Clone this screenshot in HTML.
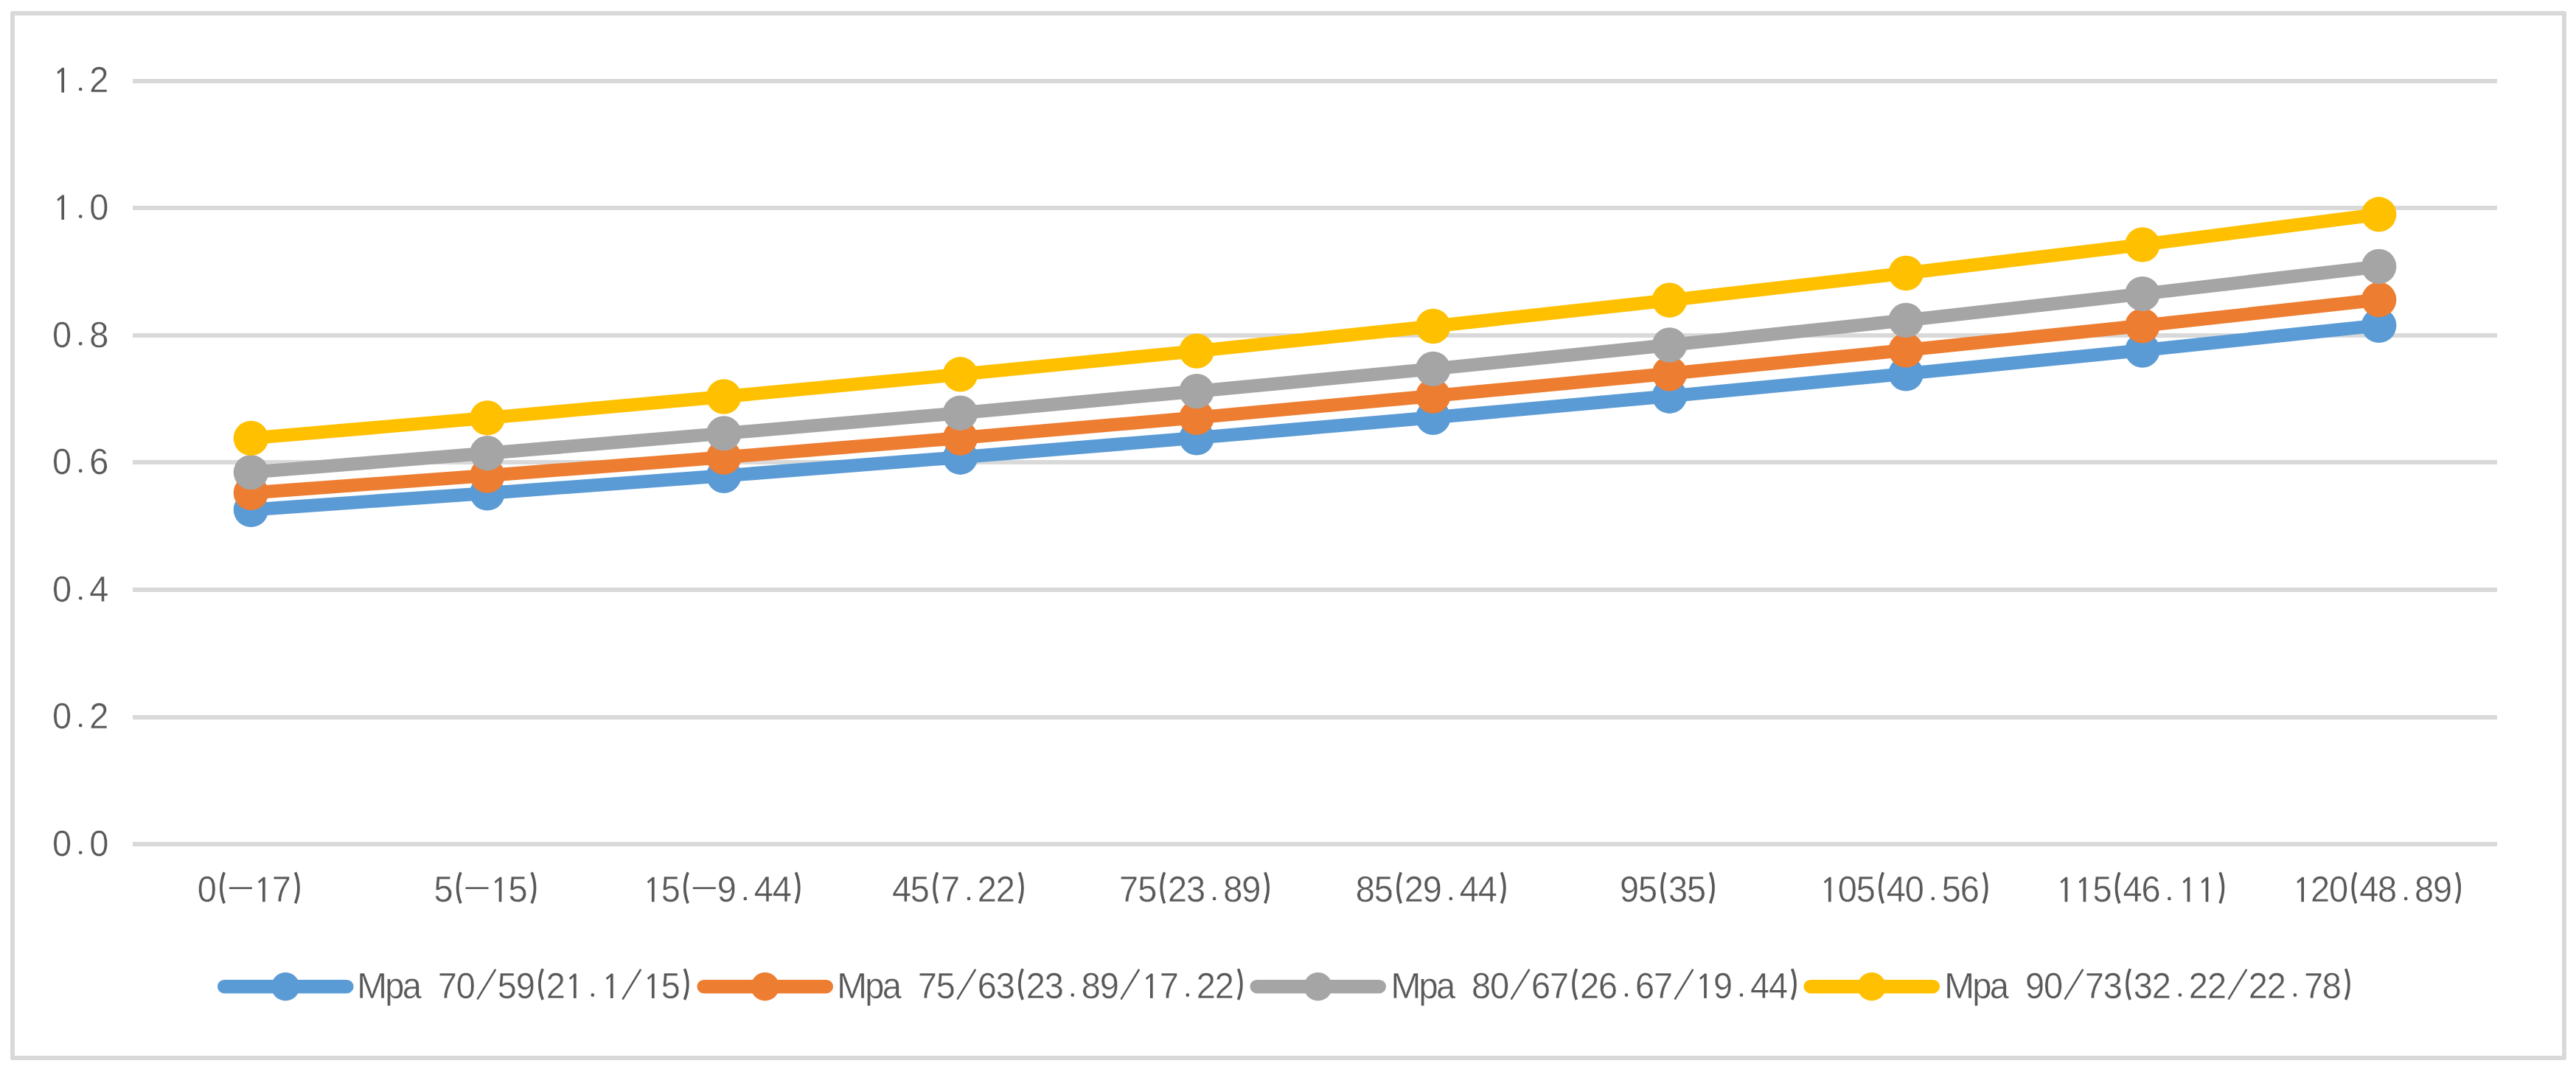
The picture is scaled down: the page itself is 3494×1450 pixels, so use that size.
<!DOCTYPE html>
<html lang="en">
<head>
<meta charset="utf-8">
<title>Chart</title>
<style>
html,body{margin:0;padding:0;background:#fff;}
body{width:3494px;height:1450px;overflow:hidden;font-family:"Liberation Sans",sans-serif;}
svg{display:block;}
.t{font-family:"Liberation Sans",sans-serif;font-size:49.4px;fill:#595959;text-anchor:middle;}
.t text{stroke:#fff;stroke-width:0.4;text-rendering:geometricPrecision;}
.t{opacity:0.999;}
.t .g{fill:none;stroke:#595959;stroke-width:3.7;stroke-linecap:butt;stroke-linejoin:miter;}
.t .n{stroke-width:2.6;}
</style>
</head>
<body>
<svg width="3494" height="1450" viewBox="0 0 3494 1450">
<rect x="17" y="18" width="3461" height="1417" fill="#fff" stroke="#D9D9D9" stroke-width="6" stroke-linejoin="round"/>
<rect x="180" y="107.0" width="3207" height="6" fill="#D9D9D9"/>
<rect x="180" y="279.0" width="3207" height="6" fill="#D9D9D9"/>
<rect x="180" y="452.0" width="3207" height="6" fill="#D9D9D9"/>
<rect x="180" y="624.0" width="3207" height="6" fill="#D9D9D9"/>
<rect x="180" y="797.0" width="3207" height="6" fill="#D9D9D9"/>
<rect x="180" y="970.0" width="3207" height="6" fill="#D9D9D9"/>
<rect x="180" y="1142.0" width="3207" height="6" fill="#D9D9D9"/>
<polyline points="340.4,691.4 661.0,668.9 981.8,645.3 1302.5,620.2 1623.1,593.9 1943.8,566.3 2264.5,537.2 2585.2,506.9 2905.9,475.1 3226.7,441.4" fill="none" stroke="#5B9BD5" stroke-width="18" stroke-linejoin="round" stroke-linecap="round"/>
<circle cx="340.4" cy="691.4" r="23.7" fill="#5B9BD5"/>
<circle cx="661.0" cy="668.9" r="23.7" fill="#5B9BD5"/>
<circle cx="981.8" cy="645.3" r="23.7" fill="#5B9BD5"/>
<circle cx="1302.5" cy="620.2" r="23.7" fill="#5B9BD5"/>
<circle cx="1623.1" cy="593.9" r="23.7" fill="#5B9BD5"/>
<circle cx="1943.8" cy="566.3" r="23.7" fill="#5B9BD5"/>
<circle cx="2264.5" cy="537.2" r="23.7" fill="#5B9BD5"/>
<circle cx="2585.2" cy="506.9" r="23.7" fill="#5B9BD5"/>
<circle cx="2905.9" cy="475.1" r="23.7" fill="#5B9BD5"/>
<circle cx="3226.7" cy="441.4" r="23.7" fill="#5B9BD5"/>
<polyline points="340.4,668.4 661.0,645.0 981.8,620.2 1302.5,594.0 1623.1,566.4 1943.8,537.0 2264.5,506.8 2585.2,474.9 2905.9,441.8 3226.7,406.5" fill="none" stroke="#ED7D31" stroke-width="18" stroke-linejoin="round" stroke-linecap="round"/>
<circle cx="340.4" cy="668.4" r="23.7" fill="#ED7D31"/>
<circle cx="661.0" cy="645.0" r="23.7" fill="#ED7D31"/>
<circle cx="981.8" cy="620.2" r="23.7" fill="#ED7D31"/>
<circle cx="1302.5" cy="594.0" r="23.7" fill="#ED7D31"/>
<circle cx="1623.1" cy="566.4" r="23.7" fill="#ED7D31"/>
<circle cx="1943.8" cy="537.0" r="23.7" fill="#ED7D31"/>
<circle cx="2264.5" cy="506.8" r="23.7" fill="#ED7D31"/>
<circle cx="2585.2" cy="474.9" r="23.7" fill="#ED7D31"/>
<circle cx="2905.9" cy="441.8" r="23.7" fill="#ED7D31"/>
<circle cx="3226.7" cy="406.5" r="23.7" fill="#ED7D31"/>
<polyline points="340.4,640.6 661.0,614.7 981.8,587.9 1302.5,560.2 1623.1,530.7 1943.8,500.4 2264.5,468.0 2585.2,434.4 2905.9,398.6 3226.7,361.5" fill="none" stroke="#A5A5A5" stroke-width="18" stroke-linejoin="round" stroke-linecap="round"/>
<circle cx="340.4" cy="640.6" r="23.7" fill="#A5A5A5"/>
<circle cx="661.0" cy="614.7" r="23.7" fill="#A5A5A5"/>
<circle cx="981.8" cy="587.9" r="23.7" fill="#A5A5A5"/>
<circle cx="1302.5" cy="560.2" r="23.7" fill="#A5A5A5"/>
<circle cx="1623.1" cy="530.7" r="23.7" fill="#A5A5A5"/>
<circle cx="1943.8" cy="500.4" r="23.7" fill="#A5A5A5"/>
<circle cx="2264.5" cy="468.0" r="23.7" fill="#A5A5A5"/>
<circle cx="2585.2" cy="434.4" r="23.7" fill="#A5A5A5"/>
<circle cx="2905.9" cy="398.6" r="23.7" fill="#A5A5A5"/>
<circle cx="3226.7" cy="361.5" r="23.7" fill="#A5A5A5"/>
<polyline points="340.4,594.4 661.0,566.9 981.8,538.0 1302.5,507.8 1623.1,476.1 1943.8,442.5 2264.5,407.2 2585.2,370.5 2905.9,331.9 3226.7,290.8" fill="none" stroke="#FFC000" stroke-width="18" stroke-linejoin="round" stroke-linecap="round"/>
<circle cx="340.4" cy="594.4" r="23.7" fill="#FFC000"/>
<circle cx="661.0" cy="566.9" r="23.7" fill="#FFC000"/>
<circle cx="981.8" cy="538.0" r="23.7" fill="#FFC000"/>
<circle cx="1302.5" cy="507.8" r="23.7" fill="#FFC000"/>
<circle cx="1623.1" cy="476.1" r="23.7" fill="#FFC000"/>
<circle cx="1943.8" cy="442.5" r="23.7" fill="#FFC000"/>
<circle cx="2264.5" cy="407.2" r="23.7" fill="#FFC000"/>
<circle cx="2585.2" cy="370.5" r="23.7" fill="#FFC000"/>
<circle cx="2905.9" cy="331.9" r="23.7" fill="#FFC000"/>
<circle cx="3226.7" cy="290.8" r="23.7" fill="#FFC000"/>
<g class="t">
<g><title>1.2</title><text transform="scale(0.95 1)" y="125.4" x="141.3">2</text><path d="M87.05 125.40L87.05 92.20L84.80 91.60L77.30 97.80L78.90 100.40L83.35 96.40L83.35 125.40Z"/><circle cx="109.2" cy="121.0" r="2.35"/></g>
<g><title>1.0</title><text transform="scale(0.95 1)" y="298.0" x="141.3">0</text><path d="M87.05 297.98L87.05 264.78L84.80 264.18L77.30 270.38L78.90 272.98L83.35 268.98L83.35 297.98Z"/><circle cx="109.2" cy="293.6" r="2.35"/></g>
<g><title>0.8</title><text transform="scale(0.95 1)" y="470.6" x="88.6 141.3">08</text><circle cx="109.2" cy="466.2" r="2.35"/></g>
<g><title>0.6</title><text transform="scale(0.95 1)" y="643.1" x="88.6 141.3">06</text><circle cx="109.2" cy="638.7" r="2.35"/></g>
<g><title>0.4</title><text transform="scale(0.95 1)" y="815.7" x="88.6 141.3">04</text><circle cx="109.2" cy="811.3" r="2.35"/></g>
<g><title>0.2</title><text transform="scale(0.95 1)" y="988.3" x="88.6 141.3">02</text><circle cx="109.2" cy="983.9" r="2.35"/></g>
<g><title>0.0</title><text transform="scale(0.95 1)" y="1160.9" x="88.6 141.3">00</text><circle cx="109.2" cy="1156.5" r="2.35"/></g>
<g><title>0(-17)</title><text transform="scale(0.95 1)" y="1223.3" x="295.6 401.9">07</text><path class="g" d="M304.2 1183.3Q295.6 1204.3 304.2 1225.2M400.6 1183.3Q409.2 1204.3 400.6 1225.2"/><path class="g n" d="M310.9 1204.6h31"/><path d="M359.70 1223.30L359.70 1190.10L357.45 1189.50L349.95 1195.70L351.55 1198.30L356.00 1194.30L356.00 1223.30Z"/></g>
<g><title>5(-15)</title><text transform="scale(0.95 1)" y="1223.3" x="633.2 739.5">55</text><path class="g" d="M624.9 1183.3Q616.3 1204.3 624.9 1225.2M721.2 1183.3Q729.9 1204.3 721.2 1225.2"/><path class="g n" d="M631.5 1204.6h31"/><path d="M680.40 1223.30L680.40 1190.10L678.15 1189.50L670.65 1195.70L672.25 1198.30L676.70 1194.30L676.70 1223.30Z"/></g>
<g><title>15(-9.44)</title><text transform="scale(0.95 1)" y="1223.3" x="957.6 1037.6 1090.3 1116.6">5944</text><path class="g" d="M933.1 1183.3Q924.5 1204.3 933.1 1225.2M1079.5 1183.3Q1088.0 1204.3 1079.5 1225.2"/><path class="g n" d="M939.8 1204.6h31"/><path d="M887.60 1223.30L887.60 1190.10L885.35 1189.50L877.85 1195.70L879.45 1198.30L883.90 1194.30L883.90 1223.30Z"/><circle cx="1010.8" cy="1218.9" r="2.35"/></g>
<g><title>45(7.22)</title><text transform="scale(0.95 1)" y="1223.3" x="1287.3 1313.6 1356.8 1409.4 1435.7">45722</text><path class="g" d="M1271.4 1183.3Q1262.8 1204.3 1271.4 1225.2M1382.7 1183.3Q1391.2 1204.3 1382.7 1225.2"/><circle cx="1314.0" cy="1218.9" r="2.35"/></g>
<g><title>75(23.89)</title><text transform="scale(0.95 1)" y="1223.3" x="1611.7 1638.1 1681.2 1707.5 1760.2 1786.5">752389</text><path class="g" d="M1579.5 1183.3Q1571.0 1204.3 1579.5 1225.2M1715.8 1183.3Q1724.4 1204.3 1715.8 1225.2"/><circle cx="1647.1" cy="1218.9" r="2.35"/></g>
<g><title>85(29.44)</title><text transform="scale(0.95 1)" y="1223.3" x="1949.3 1975.6 2018.8 2045.1 2097.7 2124.1">852944</text><path class="g" d="M1900.2 1183.3Q1891.7 1204.3 1900.2 1225.2M2036.5 1183.3Q2045.1 1204.3 2036.5 1225.2"/><circle cx="1967.8" cy="1218.9" r="2.35"/></g>
<g><title>95(35)</title><text transform="scale(0.95 1)" y="1223.3" x="2326.4 2352.7 2395.8 2422.2">9535</text><path class="g" d="M2258.4 1183.3Q2249.8 1204.3 2258.4 1225.2M2319.7 1183.3Q2328.3 1204.3 2319.7 1225.2"/></g>
<g><title>105(40.56)</title><text transform="scale(0.95 1)" y="1223.3" x="2637.6 2663.9 2707.1 2733.4 2786.1 2812.4">054056</text><path class="g" d="M2554.2 1183.3Q2545.6 1204.3 2554.2 1225.2M2690.4 1183.3Q2699.0 1204.3 2690.4 1225.2"/><path d="M2483.60 1223.30L2483.60 1190.10L2481.35 1189.50L2473.85 1195.70L2475.45 1198.30L2479.90 1194.30L2479.90 1223.30Z"/><circle cx="2621.8" cy="1218.9" r="2.35"/></g>
<g><title>115(46.11)</title><text transform="scale(0.95 1)" y="1223.3" x="3001.5 3044.7 3071.0">546</text><path class="g" d="M2874.8 1183.3Q2866.2 1204.3 2874.8 1225.2M3011.1 1183.3Q3019.7 1204.3 3011.1 1225.2"/><path d="M2804.30 1223.30L2804.30 1190.10L2802.05 1189.50L2794.55 1195.70L2796.15 1198.30L2800.60 1194.30L2800.60 1223.30ZM2829.30 1223.30L2829.30 1190.10L2827.05 1189.50L2819.55 1195.70L2821.15 1198.30L2825.60 1194.30L2825.60 1223.30ZM2970.30 1223.30L2970.30 1190.10L2968.05 1189.50L2960.55 1195.70L2962.15 1198.30L2966.60 1194.30L2966.60 1223.30ZM2995.30 1223.30L2995.30 1190.10L2993.05 1189.50L2985.55 1195.70L2987.15 1198.30L2991.60 1194.30L2991.60 1223.30Z"/><circle cx="2942.4" cy="1218.9" r="2.35"/></g>
<g><title>120(48.89)</title><text transform="scale(0.95 1)" y="1223.3" x="3312.8 3339.1 3382.3 3408.6 3461.2 3487.5">204889</text><path class="g" d="M3195.6 1183.3Q3187.0 1204.3 3195.6 1225.2M3331.8 1183.3Q3340.4 1204.3 3331.8 1225.2"/><path d="M3125.00 1223.30L3125.00 1190.10L3122.75 1189.50L3115.25 1195.70L3116.85 1198.30L3121.30 1194.30L3121.30 1223.30Z"/><circle cx="3263.2" cy="1218.9" r="2.35"/></g>
<line x1="304.3" y1="1338.2" x2="470.2" y2="1338.2" stroke="#5B9BD5" stroke-width="18.6" stroke-linecap="round"/>
<circle cx="387.2" cy="1338.3" r="19.2" fill="#5B9BD5" stroke="none"/>
<g><title>Mpa 70/59(21.1/15)</title><text y="1354.1" x="504.6">M</text><text transform="scale(0.95 1)" y="1354.1" x="563.5 588.2 638.7 665.1 724.0 750.3 793.5 957.7">pa705925</text><path class="g" d="M736.2 1314.1Q727.6 1335.1 736.2 1356.0M928.5 1314.1Q937.1 1335.1 928.5 1356.0"/><path class="g n" d="M647.4 1355.6L672.2 1314.8M844.4 1355.6L869.2 1314.8"/><path d="M781.65 1354.10L781.65 1320.90L779.40 1320.30L771.90 1326.50L773.50 1329.10L777.95 1325.10L777.95 1354.10ZM831.65 1354.10L831.65 1320.90L829.40 1320.30L821.90 1326.50L823.50 1329.10L827.95 1325.10L827.95 1354.10ZM887.65 1354.10L887.65 1320.90L885.40 1320.30L877.90 1326.50L879.50 1329.10L883.95 1325.10L883.95 1354.10Z"/><circle cx="803.8" cy="1349.7" r="2.35"/></g>
<line x1="954.8" y1="1338.2" x2="1120.7" y2="1338.2" stroke="#ED7D31" stroke-width="18.6" stroke-linecap="round"/>
<circle cx="1037.7" cy="1338.3" r="19.2" fill="#ED7D31" stroke="none"/>
<g><title>Mpa 75/63(23.89/17.22)</title><text y="1354.1" x="1155.6">M</text><text transform="scale(0.95 1)" y="1354.1" x="1248.7 1273.5 1324.0 1350.3 1409.3 1435.6 1478.7 1505.1 1557.7 1584.0 1669.3 1721.9 1748.2">pa75632389722</text><path class="g" d="M1387.2 1314.1Q1378.6 1335.1 1387.2 1356.0M1679.5 1314.1Q1688.1 1335.1 1679.5 1356.0"/><path class="g n" d="M1298.4 1355.6L1323.2 1314.8M1520.4 1355.6L1545.2 1314.8"/><path d="M1563.65 1354.10L1563.65 1320.90L1561.40 1320.30L1553.90 1326.50L1555.50 1329.10L1559.95 1325.10L1559.95 1354.10Z"/><circle cx="1454.8" cy="1349.7" r="2.35"/><circle cx="1610.8" cy="1349.7" r="2.35"/></g>
<line x1="1704.8" y1="1338.2" x2="1870.7" y2="1338.2" stroke="#A5A5A5" stroke-width="18.6" stroke-linecap="round"/>
<circle cx="1787.7" cy="1338.3" r="19.2" fill="#A5A5A5" stroke="none"/>
<g><title>Mpa 80/67(26.67/19.44)</title><text y="1354.1" x="1906.8">M</text><text transform="scale(0.95 1)" y="1354.1" x="2039.5 2064.2 2114.7 2141.1 2200.0 2226.3 2269.5 2295.8 2348.4 2374.7 2460.0 2512.6 2538.9">pa80672667944</text><path class="g" d="M2138.4 1314.1Q2129.8 1335.1 2138.4 1356.0M2430.7 1314.1Q2439.3 1335.1 2430.7 1356.0"/><path class="g n" d="M2049.6 1355.6L2074.4 1314.8M2271.6 1355.6L2296.4 1314.8"/><path d="M2314.85 1354.10L2314.85 1320.90L2312.60 1320.30L2305.10 1326.50L2306.70 1329.10L2311.15 1325.10L2311.15 1354.10Z"/><circle cx="2206.0" cy="1349.7" r="2.35"/><circle cx="2362.0" cy="1349.7" r="2.35"/></g>
<line x1="2455.8" y1="1338.2" x2="2621.7" y2="1338.2" stroke="#FFC000" stroke-width="18.6" stroke-linecap="round"/>
<circle cx="2538.7" cy="1338.3" r="19.2" fill="#FFC000" stroke="none"/>
<g><title>Mpa 90/73(32.22/22.78)</title><text y="1354.1" x="2657.7">M</text><text transform="scale(0.95 1)" y="1354.1" x="2829.9 2854.6 2905.2 2931.5 2990.4 3016.7 3059.9 3086.2 3138.8 3165.2 3224.1 3250.4 3303.1 3329.4">pa907332222278</text><path class="g" d="M2889.3 1314.1Q2880.7 1335.1 2889.3 1356.0M3181.6 1314.1Q3190.2 1335.1 3181.6 1356.0"/><path class="g n" d="M2800.5 1355.6L2825.3 1314.8M3022.5 1355.6L3047.3 1314.8"/><circle cx="2956.9" cy="1349.7" r="2.35"/><circle cx="3112.9" cy="1349.7" r="2.35"/></g>
</g>
</svg>
</body>
</html>
